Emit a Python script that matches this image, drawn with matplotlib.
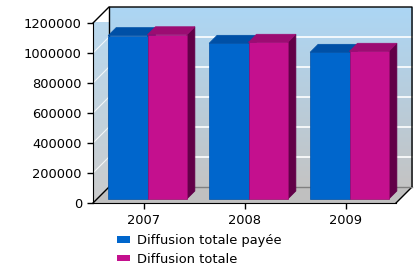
import matplotlib
matplotlib.use('Agg')
import matplotlib.pyplot as plt
import numpy as np
from matplotlib.patches import Polygon, Patch
from matplotlib.transforms import IdentityTransform, ScaledTranslation

years = ['2007', '2008', '2009']
diffusion_payee = [1089000, 1038000, 978000]
diffusion_totale = [1095000, 1045000, 985000]
series_names = ['Diffusion totale payée', 'Diffusion totale']

blue = ['#0066cc', '#0050a6', '#003d80']
pink = ['#c4108e', '#9c0c72', '#620048']
fs = 9.4

fig = plt.figure(figsize=(4.19, 2.69), dpi=100)
ax = fig.add_axes([93 / 419, 66 / 269, 303 / 419, 180 / 269])
ax.set_xlim(-0.5, 2.5)
ax.set_ylim(0, 1200000)
ax.set_facecolor('none')

depth = 16      # wall depth in pixels
b0, b1 = 4, 12  # bar front / back depth in pixels
ID = IdentityTransform()


def P(x, y, d):
    px, py = ax.transData.transform((x, y))
    return (px + d, py + d)


def poly(pts, **kw):
    p = Polygon(pts, closed=True, transform=ID, clip_on=False, **kw)
    ax.add_patch(p)
    return p


def line(pts, **kw):
    ax.add_line(plt.Line2D(*zip(*pts), transform=ID, clip_on=False, **kw))


def off(d):
    return ax.transData + ScaledTranslation(d / 100, d / 100, fig.dpi_scale_trans)


x0, x1 = ax.get_xlim()
y0, y1 = ax.get_ylim()
t = np.linspace(0, 1, 100)[:, None]

# back wall gradient
top_c = np.array([172, 214, 244]) / 255
bot_c = np.array([196, 196, 196]) / 255
grad = (top_c * (1 - t) + bot_c * t)[:, None, :]
(ax_, ay_), (bx_, by_) = P(x0, y0, depth), P(x1, y1, depth)
ax.imshow(grad, extent=(ax_, bx_, ay_, by_), aspect='auto', transform=ID,
          zorder=0, clip_on=False)

# side wall gradient
top_s = np.array([184, 218, 242]) / 255
bot_s = np.array([204, 204, 204]) / 255
grad_s = (top_s * (1 - t) + bot_s * t)[:, None, :]
side = poly([P(x0, y0, 0), P(x0, y1, 0), P(x0, y1, depth), P(x0, y0, depth)],
            facecolor='none', edgecolor='none')
(sx0, sy0), (sx1, sy1) = P(x0, y0, 0), P(x0, y1, depth)
im = ax.imshow(grad_s, extent=(sx0, sx1, sy0, sy1), aspect='auto', transform=ID,
               zorder=0.5, clip_on=False)
im.set_clip_on(True)
im.set_clip_box(None)
im.set_clip_path(side)

# floor
poly([P(x0, y0, 0), P(x1, y0, 0), P(x1, y0, depth), P(x0, y0, depth)],
     facecolor='#c0c0c0', edgecolor='none', zorder=1)

# gridlines
for v in np.arange(200000, 1200000, 200000):
    line([P(x0, v, depth), P(x1, v, depth)], color='white', lw=1.2, zorder=1.5)
    line([P(x0, v, 0), P(x0, v, depth)], color='white', lw=0.8, alpha=0.8, zorder=1.5)

# wall outlines
k = dict(color='black', lw=1, zorder=1.6)
line([P(x0, y1, 0), P(x0, y1, depth), P(x1, y1, depth), P(x1, y0, depth)], **k)
line([P(x0, y1, depth), P(x0, y0, depth)], **k)
line([P(x0, y0, 0), P(x0, y0, depth)], **k)
line([P(x1, y0, 0), P(x1, y0, depth)], **k)
line([P(x0, y0, depth), P(x1, y0, depth)], color='#808080', lw=1, zorder=1.6)

# bars
width = 0.39
xs = np.arange(len(years))
z = 2
for i in range(len(years)):
    for vals, cols, sgn in ((diffusion_payee, blue, -1), (diffusion_totale, pink, 1)):
        v = vals[i]
        left = xs[i] - width if sgn < 0 else xs[i]
        right = left + width
        poly([P(right, 0, b0), P(right, v, b0), P(right, v, b1), P(right, 0, b1)],
             facecolor=cols[2], edgecolor=cols[2], lw=0.5, zorder=z)
        poly([P(left, v, b0), P(right, v, b0), P(right, v, b1), P(left, v, b1)],
             facecolor=cols[1], edgecolor=cols[1], lw=0.5, zorder=z)
        ax.bar(left, v, width=width, align='edge', color=cols[0], edgecolor=cols[1],
               lw=0.5, transform=off(b0), zorder=z + 0.1, clip_on=False)
        z += 1

for s in ['top', 'right']:
    ax.spines[s].set_visible(False)
ax.spines['left'].set_zorder(50)
ax.spines['bottom'].set_zorder(50)

ax.set_xticks(xs)
ax.set_xticklabels(years, fontsize=fs)
ax.set_yticks(np.arange(0, 1200001, 200000))
ax.set_yticklabels([str(v) for v in range(0, 1200001, 200000)], fontsize=fs)
ax.tick_params(length=4, width=1, pad=4)

handles = [Patch(facecolor=blue[0], edgecolor='none'),
           Patch(facecolor=pink[0], edgecolor='none')]
fig.legend(handles, series_names, loc='upper left', bbox_to_anchor=(108 / 419, 1 - 225 / 269),
           frameon=False, fontsize=fs, handlelength=1.0, handleheight=0.43,
           handletextpad=0.55, labelspacing=0.42, borderpad=0.2)

fig.savefig('out.png', dpi=100)
